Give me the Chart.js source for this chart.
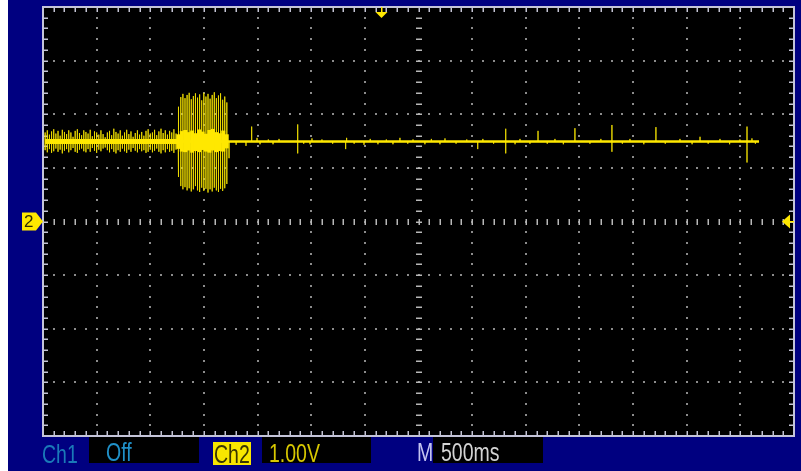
<!DOCTYPE html>
<html>
<head>
<meta charset="utf-8">
<script src="https://cdn.jsdelivr.net/npm/chart.js@4/dist/chart.umd.min.js"></script>
<style>
  html, body { margin: 0; padding: 0; background: #ffffff; }
  #wrap { width: 801px; height: 471px; }
</style>
</head>
<body>
<div id="wrap"><canvas id="scope" width="801" height="471"></canvas></div>
<script>
// Channel 2 capture, 1.00 V/div, 500 ms/div (14 x 8 divisions)
const X_MIN = 0, X_MAX = 7;          // seconds across the screen
const Y_MIN = -4, Y_MAX = 4;         // volts (ch2 ground at centre)
const BASE = 1.49;                   // resting level of the trace, V
const TRACE_END = 6.674;             // last sample on screen, s
const TRIGGER_T = 3.155;             // trigger position marker, s

// Noisy section at the start: [high, low] per sample column
const NOISE_START = 0.02, NOISE_STEP = 0.02;
const noisePairs = [
  [1.66,1.33],[1.70,1.29],[1.62,1.35],[1.68,1.28],[1.72,1.31],[1.64,1.36],[1.69,1.30],[1.60,1.34],
  [1.71,1.27],[1.67,1.32],[1.63,1.35],[1.70,1.29],[1.66,1.33],[1.58,1.37],[1.69,1.30],[1.72,1.28],
  [1.65,1.34],[1.61,1.36],[1.70,1.31],[1.67,1.29],[1.64,1.35],[1.71,1.30],[1.59,1.37],[1.68,1.32],
  [1.66,1.28],[1.62,1.34],[1.70,1.31],[1.63,1.36],[1.57,1.38],[1.66,1.33],[1.69,1.29],[1.61,1.35],
  [1.73,1.30],[1.67,1.27],[1.64,1.33],[1.70,1.30],[1.60,1.36],[1.66,1.31],[1.71,1.28],[1.63,1.34],
  [1.68,1.30],[1.58,1.37],[1.65,1.32],[1.70,1.29],[1.62,1.35],[1.67,1.31],[1.60,1.33],[1.69,1.28],
  [1.72,1.30],[1.64,1.34],[1.66,1.29],[1.71,1.32],[1.61,1.36],[1.68,1.30],[1.73,1.27],[1.65,1.33],
  [1.70,1.29],[1.62,1.35],[1.69,1.30],[1.66,1.32],[1.72,1.28],[1.64,1.34],[1.70,1.31]
];

// Burst: [high, low] per sample column
const BURST_START = 1.265, BURST_STEP = 0.0195;
const burstPairs = [
  [2.14,0.83],[2.32,0.66],[2.38,0.60],[2.30,0.64],[2.36,0.58],[2.40,0.62],[2.28,0.56],[2.34,0.60],
  [2.39,0.66],[2.31,0.58],[2.37,0.55],[2.26,0.63],[2.40,0.57],[2.33,0.61],[2.38,0.54],[2.29,0.60],
  [2.36,0.56],[2.41,0.63],[2.30,0.58],[2.35,0.55],[2.39,0.61],[2.27,0.57],[2.33,0.62],[2.22,0.70]
];
// Dense core of the burst (upper / lower edge per column)
const CORE_START = 1.262, CORE_END = 1.712;
const burstCoreTop = [1.62,1.68,1.70,1.66,1.69,1.64,1.71,1.67,1.63,1.70,1.72,1.66,1.64,1.69,1.62];
const burstCoreBot = [1.36,1.31,1.30,1.33,1.29,1.32,1.30,1.34,1.31,1.29,1.33,1.30,1.32,1.31,1.37];

// Isolated glitches on the quiet part: [time s, peak V]
const glitches = [
  [1.734,1.18],[1.80,1.43],[1.892,1.41],[1.945,1.77],[1.995,1.56],[2.023,1.44],[2.10,1.53],
  [2.144,1.44],[2.20,1.54],[2.374,1.81],[2.374,1.27],[2.43,1.45],[2.489,1.44],[2.507,1.55],
  [2.60,1.53],[2.70,1.45],[2.821,1.35],[2.83,1.56],[2.90,1.45],[2.992,1.43],[3.05,1.54],
  [3.122,1.44],[3.20,1.53],[3.262,1.44],[3.327,1.56],[3.40,1.45],[3.449,1.53],[3.56,1.44],
  [3.62,1.54],[3.70,1.44],[3.747,1.55],[3.85,1.45],[3.95,1.53],[4.052,1.35],[4.10,1.54],
  [4.20,1.45],[4.313,1.73],[4.313,1.27],[4.40,1.44],[4.446,1.54],[4.539,1.45],[4.614,1.69],
  [4.70,1.45],[4.772,1.54],[4.85,1.44],[4.958,1.74],[5.098,1.45],[5.20,1.54],[5.303,1.80],
  [5.303,1.30],[5.40,1.45],[5.471,1.54],[5.60,1.44],[5.713,1.76],[5.80,1.45],[5.937,1.54],
  [6.05,1.44],[6.124,1.58],[6.20,1.45],[6.31,1.54],[6.40,1.44],[6.496,1.53],[6.562,1.77],
  [6.562,1.10],[6.608,1.55],[6.64,1.45]
];

// ---- build the trace point lists ----
const tracePts = [];
noisePairs.forEach(([hi, lo], i) => {
  const t = NOISE_START + i * NOISE_STEP;
  tracePts.push({x: t, y: BASE}, {x: t, y: hi}, {x: t, y: lo}, {x: t, y: BASE});
});
burstPairs.forEach(([hi, lo], i) => {
  const t = BURST_START + i * BURST_STEP;
  tracePts.push({x: t, y: BASE}, {x: t, y: hi}, {x: t, y: lo}, {x: t, y: BASE});
});
glitches.forEach(([t, v]) => {
  tracePts.push({x: t, y: BASE}, {x: t, y: v}, {x: t, y: BASE});
});
tracePts.push({x: TRACE_END, y: BASE});

// burst core as floating columns [low, high]
const coreStep = (CORE_END - CORE_START) / (burstCoreTop.length - 1);
const coreBars = burstCoreTop.map((v, i) => ({x: CORE_START + i * coreStep, y: [burstCoreBot[i], v]}));

const YEL = '#ffe800';

// ---- screen furniture ----
const backdrop = {
  id: 'backdrop',
  beforeDraw(chart) {
    const {ctx, chartArea: a, width, height} = chart;
    ctx.save();
    ctx.fillStyle = '#ffffff';
    ctx.fillRect(0, 0, width, height);
    ctx.fillStyle = '#000080';
    ctx.fillRect(8, 0, width - 8, height);
    ctx.fillStyle = '#000000';
    ctx.fillRect(a.left, a.top, a.right - a.left, a.bottom - a.top);
    ctx.restore();
  }
};

const graticule = {
  id: 'graticule',
  beforeDatasetsDraw(chart) {
    const {ctx, chartArea: a, scales: {x, y}} = chart;
    ctx.save();
    const xs = [], ys = [];
    for (let i = 0; i <= 70; i++) xs.push(X_MIN + i * 0.1);
    for (let j = 0; j <= 40; j++) ys.push(Y_MIN + j * 0.2);
    // dotted major lines
    ctx.fillStyle = '#8c8c8c';
    for (let k = 1; k < 14; k++) {
      if (k === 7) continue;
      const px = Math.round(x.getPixelForValue(k * 0.5));
      ys.forEach(v => { const py = Math.round(y.getPixelForValue(v)); ctx.fillRect(px - 1, py - 1, 2, 2); });
    }
    for (let k = -3; k <= 3; k++) {
      if (k === 0) continue;
      const py = Math.round(y.getPixelForValue(k));
      xs.forEach(t => { const px = Math.round(x.getPixelForValue(t)); ctx.fillRect(px - 1, py - 1, 2, 2); });
    }
    // centre axes with minor dashes
    ctx.fillStyle = '#b8b8b8';
    const cy = Math.round(y.getPixelForValue(0));
    xs.forEach(t => { const px = Math.round(x.getPixelForValue(t)); ctx.fillRect(px - 0.5, cy - 3, 1.5, 6); });
    const cx = Math.round(x.getPixelForValue(3.5));
    ys.forEach(v => { const py = Math.round(y.getPixelForValue(v)); ctx.fillRect(cx - 3, py - 0.5, 6, 1.5); });
    // border ticks
    ctx.fillStyle = '#c4c4d4';
    xs.forEach(t => {
      const px = Math.round(x.getPixelForValue(t));
      ctx.fillRect(px - 0.5, a.top, 1.5, 5);
      ctx.fillRect(px - 0.5, a.bottom - 5, 1.5, 5);
    });
    ys.forEach(v => {
      const py = Math.round(y.getPixelForValue(v));
      ctx.fillRect(a.left, py - 0.5, 5, 1.5);
      ctx.fillRect(a.right - 5, py - 0.5, 5, 1.5);
    });
    // frame
    ctx.strokeStyle = '#c4c4d8';
    ctx.lineWidth = 2;
    ctx.strokeRect(a.left, a.top, a.right - a.left, a.bottom - a.top);
    ctx.restore();
  }
};

function txt(ctx, s, x, base, color, size) {
  ctx.save();
  ctx.translate(x, base);
  ctx.scale(0.75, 1);
  ctx.font = (size || 26) + 'px "Liberation Sans", Arial, sans-serif';
  ctx.fillStyle = color;
  ctx.textBaseline = 'alphabetic';
  ctx.fillText(s, 0, 0);
  ctx.restore();
}

const readout = {
  id: 'readout',
  afterDraw(chart) {
    const {ctx, chartArea: a, scales: {x, y}} = chart;
    ctx.save();
    // trigger position marker
    const tx = Math.round(x.getPixelForValue(TRIGGER_T)) + 0.5;
    ctx.fillStyle = YEL;
    ctx.fillRect(tx - 0.5, a.top, 1.5, 6);
    ctx.beginPath();
    ctx.moveTo(tx - 6, a.top + 5);
    ctx.lineTo(tx + 6, a.top + 5);
    ctx.lineTo(tx, a.top + 11);
    ctx.closePath();
    ctx.fill();
    // trigger level marker (right)
    const gy = y.getPixelForValue(0);
    ctx.beginPath();
    ctx.moveTo(a.right - 12, gy);
    ctx.lineTo(a.right - 4, gy - 7);
    ctx.lineTo(a.right - 4, gy + 7);
    ctx.closePath();
    ctx.fill();
    ctx.fillRect(a.right - 5, gy - 0.5, 5, 1.5);
    // channel 2 ground marker (left)
    ctx.beginPath();
    ctx.moveTo(22, gy - 9);
    ctx.lineTo(36, gy - 9);
    ctx.lineTo(a.left, gy);
    ctx.lineTo(36, gy + 9);
    ctx.lineTo(22, gy + 9);
    ctx.closePath();
    ctx.fill();
    ctx.font = '17px "Liberation Sans", Arial, sans-serif';
    ctx.fillStyle = '#302c00';
    ctx.textBaseline = 'middle';
    ctx.fillText('2', 24, gy + 1);
    // status bar
    ctx.fillStyle = '#000000';
    ctx.fillRect(89, 437, 110, 26);
    ctx.fillRect(262, 437, 109, 26);
    ctx.fillRect(433, 437, 110, 26);
    ctx.fillStyle = '#f8e600';
    ctx.fillRect(213, 442, 38, 23);
    ctx.restore();
    txt(ctx, 'Ch1', 42, 463, '#1a7ab8');
    txt(ctx, 'Off', 106, 461, '#2090c8');
    txt(ctx, 'Ch2', 214, 463, '#3a3600');
    txt(ctx, '1.00V', 269, 462, '#d8c800');
    txt(ctx, 'M', 417, 461, '#c4c4f0');
    txt(ctx, '500ms', 441, 461, '#d4d4d4');
  }
};

new Chart(document.getElementById('scope'), {
  type: 'scatter',
  data: {
    datasets: [
      { data: tracePts, showLine: true, borderColor: 'rgba(240,222,0,0.9)', borderWidth: 1,
        pointRadius: 0, order: 2 },
      { data: [{x: NOISE_START, y: BASE}, {x: 1.26, y: BASE}], showLine: true, borderColor: YEL,
        borderWidth: 5, pointRadius: 0, order: 1 },
      { data: [{x: 1.26, y: BASE}, {x: TRACE_END, y: BASE}], showLine: true, borderColor: YEL,
        borderWidth: 2.5, pointRadius: 0, order: 1 },
      { type: 'bar', data: coreBars, backgroundColor: YEL, borderWidth: 0,
        barPercentage: 1, categoryPercentage: 1, grouped: false, order: 0 }
    ]
  },
  options: {
    responsive: false,
    animation: false,
    devicePixelRatio: 1,
    layout: { padding: { left: 43, right: 7, top: 7, bottom: 35 } },
    scales: {
      x: { type: 'linear', min: X_MIN, max: X_MAX, display: false, offset: false },
      y: { type: 'linear', min: Y_MIN, max: Y_MAX, display: false }
    },
    plugins: { legend: { display: false }, tooltip: { enabled: false } }
  },
  plugins: [backdrop, graticule, readout]
});
</script>
</body>
</html>
